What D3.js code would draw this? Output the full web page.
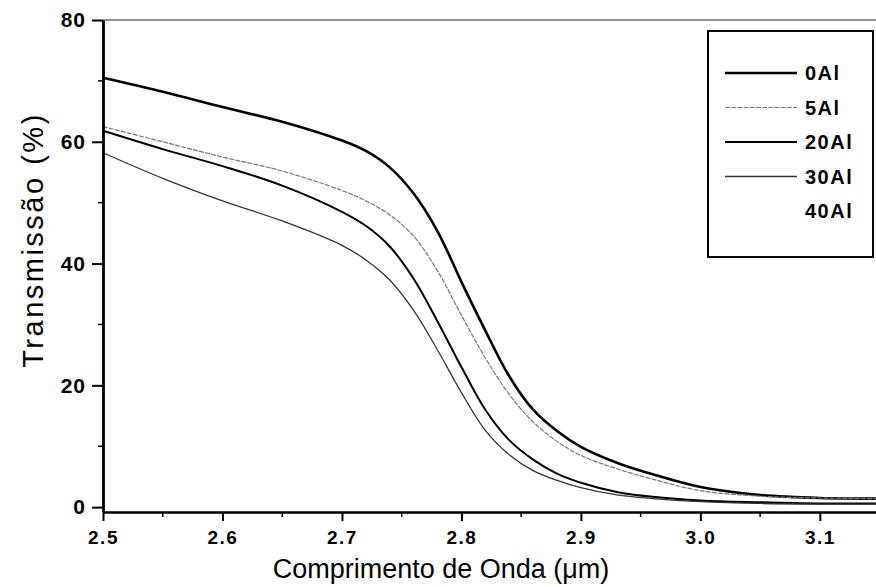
<!DOCTYPE html>
<html>
<head>
<meta charset="utf-8">
<script src="https://cdn.jsdelivr.net/npm/d3@7"></script>
<style>
  body { margin: 0; background: #fff; }
  svg { display: block; font-family: "Liberation Sans", Arial, sans-serif; }
  .axis path, .axis line { stroke: #000; }
  .axis text { fill: #000; }
</style>
</head>
<body>
<svg id="chart" width="876" height="587"></svg>
<script>
// wavelength grid (µm)
const wavelength = [2.50, 2.55, 2.60, 2.65, 2.70, 2.72, 2.74, 2.76, 2.78, 2.80, 2.82,
                    2.84, 2.86, 2.88, 2.90, 2.93, 2.96, 3.00, 3.05, 3.10, 3.15];

// transmission (%) per sample
const al0  = [70.5, 68.2, 65.7, 63.3, 60.2, 58.5, 55.8, 51.5, 45.3, 37.0, 29.0,
              21.5, 16.0, 12.5, 9.9, 7.3, 5.4, 3.3, 2.0, 1.5, 1.4];
const al5  = [62.5, 60.0, 57.5, 55.2, 52.0, 50.3, 48.0, 44.5, 38.8, 31.5, 24.5,
              18.5, 14.0, 10.8, 8.5, 6.3, 4.6, 2.7, 1.8, 1.5, 1.4];
const al20 = [61.8, 58.8, 56.0, 52.8, 48.5, 46.2, 42.8, 37.5, 30.5, 23.0, 16.0,
              11.0, 7.8, 5.5, 4.0, 2.5, 1.7, 1.1, 0.8, 0.6, 0.6];
const al30 = [58.2, 54.0, 50.3, 47.0, 43.0, 40.6, 37.3, 32.3, 25.8, 18.8, 12.6,
              8.6, 6.0, 4.4, 3.2, 2.0, 1.4, 0.9, 0.6, 0.5, 0.5];

const seriesNames = ['0Al', '5Al', '20Al', '30Al', '40Al'];
const seriesValues = [al0, al5, al20, al30, null];

const xTicks = [2.5, 2.6, 2.7, 2.8, 2.9, 3.0, 3.1];
const yTicks = [0, 20, 40, 60, 80];

// line look per series
const styles = [
  { stroke: '#000', width: 2.6, dash: null },
  { stroke: '#777', width: 1.2, dash: '5,1.2' },
  { stroke: '#000', width: 2.0, dash: null },
  { stroke: '#333', width: 1.3, dash: null },
  { stroke: '#fff', width: 1.2, dash: null }
];

const svg = d3.select('#chart'),
      plotL = 103, plotR = 876, plotT = 20, plotB = 512;

const x = d3.scaleLinear().domain([2.5, 3.147]).range([plotL, plotR]);
const y = d3.scaleLinear().domain([-0.8, 80]).range([plotB, plotT]);

// frame top line
svg.append('line')
  .attr('x1', plotL).attr('x2', plotR)
  .attr('y1', plotT).attr('y2', plotT)
  .attr('stroke', '#222').attr('stroke-width', 1);

// curves
const line = d3.line()
  .x((d, i) => x(wavelength[i]))
  .y(d => y(d))
  .curve(d3.curveCatmullRom.alpha(0.5));

seriesValues.forEach((vals, i) => {
  if (!vals) return;
  svg.append('path')
    .datum(vals)
    .attr('fill', 'none')
    .attr('stroke', styles[i].stroke)
    .attr('stroke-width', styles[i].width)
    .attr('stroke-dasharray', styles[i].dash)
    .attr('stroke-linejoin', 'round')
    .attr('d', line);
});

// x axis
const gx = svg.append('g')
  .attr('class', 'axis')
  .attr('transform', 'translate(0,' + plotB + ')')
  .call(d3.axisBottom(x).tickValues(xTicks).tickFormat(d3.format('.1f')).tickSize(9).tickSizeOuter(0));
gx.select('.domain').attr('stroke-width', 2.5);
gx.selectAll('.tick line').attr('stroke-width', 2);
gx.selectAll('text')
  .attr('font-size', 19).attr('font-weight', 'bold')
  .attr('letter-spacing', 1.5).attr('dy', '1.05em');

// minor x ticks
svg.append('g')
  .selectAll('line')
  .data(d3.range(2.55, 3.14, 0.1))
  .enter().append('line')
  .attr('x1', d => x(d)).attr('x2', d => x(d))
  .attr('y1', plotB).attr('y2', plotB + 5)
  .attr('stroke', '#000').attr('stroke-width', 1.5);

// y axis
const gy = svg.append('g')
  .attr('class', 'axis')
  .attr('transform', 'translate(' + plotL + ',0)')
  .call(d3.axisLeft(y).tickValues(yTicks).tickSize(11).tickSizeOuter(0));
gy.select('.domain').attr('stroke-width', 2.8);
gy.selectAll('.tick line').attr('stroke-width', 2);
gy.selectAll('text')
  .attr('font-size', 21).attr('font-weight', 'bold')
  .attr('letter-spacing', 1).attr('x', -17);

// minor y ticks
svg.append('g')
  .selectAll('line')
  .data([10, 30, 50, 70])
  .enter().append('line')
  .attr('x1', plotL - 5).attr('x2', plotL)
  .attr('y1', d => y(d)).attr('y2', d => y(d))
  .attr('stroke', '#000').attr('stroke-width', 1.5);

// axis titles
svg.append('text')
  .attr('x', 441).attr('y', 578)
  .attr('text-anchor', 'middle')
  .attr('font-size', 27)
  .text('Comprimento de Onda (\u03bcm)');

svg.append('text')
  .attr('transform', 'translate(43,240) rotate(-90)')
  .attr('text-anchor', 'middle')
  .attr('font-size', 29)
  .attr('letter-spacing', 2.5)
  .text('Transmissão (%)');

// legend
const lg = svg.append('g');
lg.append('rect')
  .attr('x', 708).attr('y', 31)
  .attr('width', 165).attr('height', 226)
  .attr('fill', '#fff').attr('stroke', '#000').attr('stroke-width', 2);

const legendY = d3.scalePoint().domain(seriesNames).range([73, 211]);

seriesNames.forEach((name, i) => {
  const yy = legendY(name);
  lg.append('line')
    .attr('x1', 725).attr('x2', 797)
    .attr('y1', yy).attr('y2', yy)
    .attr('stroke', styles[i].stroke)
    .attr('stroke-width', styles[i].width)
    .attr('stroke-dasharray', styles[i].dash);
  lg.append('text')
    .attr('x', 805).attr('y', yy)
    .attr('dy', '0.36em')
    .attr('font-size', 20)
    .attr('font-weight', 'bold')
    .attr('letter-spacing', 1.5)
    .text(name);
});
</script>
</body>
</html>
